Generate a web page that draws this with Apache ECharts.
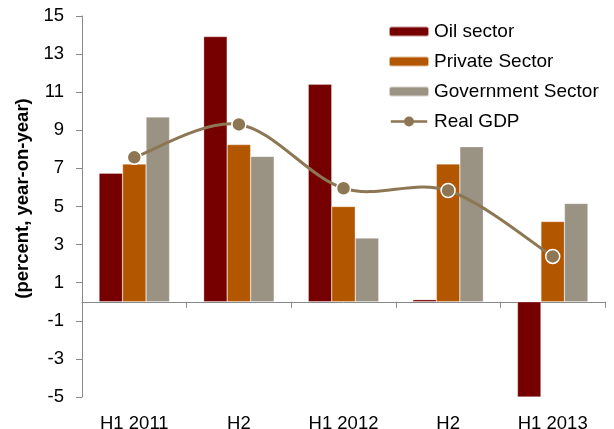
<!DOCTYPE html>
<html><head><meta charset="utf-8">
<script src="https://cdn.jsdelivr.net/npm/echarts@6/dist/echarts.min.js"></script>
<style>html,body{margin:0;padding:0;background:#fff}#c{width:614px;height:429px}</style>
</head><body><div id="c"></div>
<script>
const categories = ['H1 2011', 'H2', 'H1 2012', 'H2', 'H1 2013'];
const oilSector = [6.75, 13.92, 11.42, 0.11, -5.0];
const privateSector = [7.23, 8.25, 5.0, 7.23, 4.21];
const governmentSector = [9.7, 7.63, 3.34, 8.14, 5.16];
const realGDP = [7.58, 9.31, 5.96, 5.84, 2.38];
const yTicks = [-5, -3, -1, 1, 3, 5, 7, 9, 11, 13, 15];

const font = 'Liberation Sans, Arial, sans-serif';
const lineColor = '#8C7653';
const chart = echarts.init(document.getElementById('c'), null, {renderer: 'canvas'});

// Smooth curve (Catmull-Rom style, like spreadsheet smoothing) through the data via api.coord
function renderCurve(params, api) {
  const i = params.dataIndex;
  const n = realGDP.length;
  if (i >= n - 1) return {type: 'group', children: []};
  const P = realGDP.map((v, k) => api.coord([k, v]));
  const p0 = P[Math.max(i - 1, 0)], p1 = P[i], p2 = P[i + 1], p3 = P[Math.min(i + 2, n - 1)];
  return {
    type: 'bezierCurve',
    shape: {
      x1: p1[0], y1: p1[1], x2: p2[0], y2: p2[1],
      cpx1: p1[0] + (p2[0] - p0[0]) / 6, cpy1: p1[1] + (p2[1] - p0[1]) / 6,
      cpx2: p2[0] - (p3[0] - p1[0]) / 6, cpy2: p2[1] - (p3[1] - p1[1]) / 6
    },
    style: {stroke: lineColor, lineWidth: 3, fill: null}
  };
}

const gdpLegendIcon = 'path://M0,3.5 L40,3.5 L40,6.5 L0,6.5 Z M25.5,5 A5.5,5.5 0 1 1 14.5,5 A5.5,5.5 0 1 1 25.5,5 Z';

chart.setOption({
  animation: false,
  backgroundColor: '#fff',
  textStyle: {fontFamily: font},
  grid: {left: 82, right: 9, top: 16, bottom: 32, containLabel: false, outerBoundsMode: 'none'},
  legend: {
    orient: 'vertical', left: 383, top: 17, itemWidth: 40, itemHeight: 10, itemGap: 11,
    textStyle: {fontFamily: font, fontSize: 19, color: '#000'},
    data: ['Oil sector', 'Private Sector', 'Government Sector',
      {name: 'Real GDP', icon: gdpLegendIcon,
       itemStyle: {color: lineColor, borderWidth: 0, opacity: 1}}]
  },
  xAxis: [
    {type: 'category', data: categories, position: 'bottom',
     axisLine: {show: false, onZero: false}, axisTick: {show: false},
     axisLabel: {fontFamily: font, fontSize: 18.5, color: '#000', margin: 17}},
    {type: 'category', data: categories, position: 'bottom',
     axisLine: {show: true, onZero: true, lineStyle: {color: '#888', width: 1}},
     axisTick: {show: true, length: 6, lineStyle: {color: '#888'}},
     axisLabel: {show: false}}
  ],
  yAxis: {
    type: 'value', min: -5, max: 15,
    name: '(percent, year-on-year)', nameLocation: 'middle', nameGap: 45,
    nameTextStyle: {fontFamily: font, fontSize: 18.5, fontWeight: 'bold', color: '#000', padding: [0, 0, 0, 16]},
    axisLine: {show: true, lineStyle: {color: '#888'}},
    axisTick: {show: true, length: 6, inside: false, customValues: yTicks, lineStyle: {color: '#888'}},
    axisLabel: {fontFamily: font, fontSize: 18.5, color: '#000', margin: 18, customValues: yTicks},
    splitLine: {show: false}
  },
  series: [
    {name: 'Oil sector', type: 'bar', data: oilSector, xAxisIndex: 0, barWidth: 23.5, barGap: '0%',
     itemStyle: {color: '#760000', borderColor: 'rgba(255,255,255,0.6)', borderWidth: 0.5}},
    {name: 'Private Sector', type: 'bar', data: privateSector, xAxisIndex: 0, barWidth: 23.5, barGap: '0%',
     itemStyle: {color: '#B35600', borderColor: 'rgba(255,255,255,0.6)', borderWidth: 0.5}},
    {name: 'Government Sector', type: 'bar', data: governmentSector, xAxisIndex: 0, barWidth: 23.5, barGap: '0%',
     itemStyle: {color: '#9A9283', borderColor: 'rgba(255,255,255,0.6)', borderWidth: 0.5}},
    {name: 'Real GDP curve', type: 'custom', xAxisIndex: 0, z: 4,
     data: realGDP.map((v, i) => [i, v]), encode: {x: 0, y: 1},
     renderItem: renderCurve, silent: true},
    {name: 'Real GDP', type: 'line', data: realGDP, xAxisIndex: 0,
     symbol: 'circle', symbolSize: 14, z: 5,
     lineStyle: {color: lineColor, width: 3, opacity: 0},
     itemStyle: {color: lineColor, borderColor: '#fff', borderWidth: 1.5}}
  ]
});
</script></body></html>
